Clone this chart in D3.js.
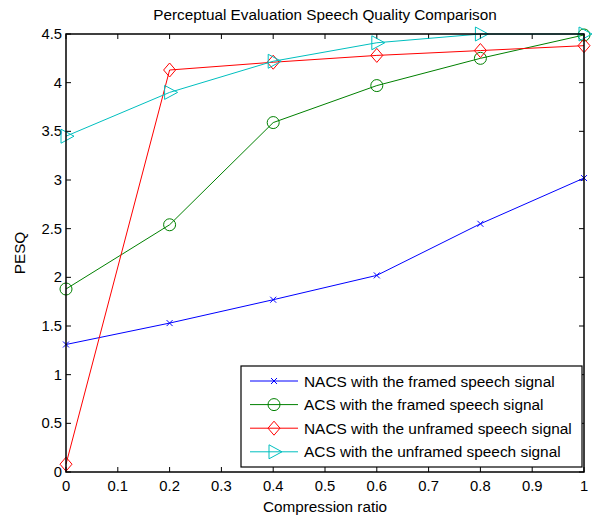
<!DOCTYPE html>
<html>
<head>
<meta charset="utf-8">
<script src="https://d3js.org/d3.v7.min.js"></script>
<style>
 body { margin: 0; background: #fff; }
 text { font-family: "Liberation Sans", Arial, sans-serif; fill: #000; }
</style>
</head>
<body>
<script>
// data
var ratios = [0, 0.2, 0.4, 0.6, 0.8, 1];
var nacsFramed = [1.31, 1.53, 1.77, 2.02, 2.55, 3.02];
var acsFramed = [1.88, 2.54, 3.59, 3.97, 4.25, 4.49];
var nacsUnframed = [0.08, 4.13, 4.21, 4.28, 4.33, 4.38];
var acsUnframed = [3.45, 3.90, 4.22, 4.41, 4.50, 4.50];
var seriesNames = ["NACS with the framed speech signal", "ACS with the framed speech signal",
                   "NACS with the unframed speech signal", "ACS with the unframed speech signal"];
var xTicks = [0, 0.1, 0.2, 0.3, 0.4, 0.5, 0.6, 0.7, 0.8, 0.9, 1];
var yTicks = [0, 0.5, 1, 1.5, 2, 2.5, 3, 3.5, 4, 4.5];

var series = [
  {name: seriesNames[0], values: nacsFramed, color: "#0000ff", marker: "x"},
  {name: seriesNames[1], values: acsFramed, color: "#008000", marker: "o"},
  {name: seriesNames[2], values: nacsUnframed, color: "#ff0000", marker: "d"},
  {name: seriesNames[3], values: acsUnframed, color: "#00bfbf", marker: ">"}
];

var W = 593, H = 518;
var m = {left: 66, right: 9, top: 34, bottom: 46};
var svg = d3.select("body").append("svg").attr("width", W).attr("height", H);

var x = d3.scaleLinear().domain([0, 1]).range([m.left, W - m.right]);
var y = d3.scaleLinear().domain([0, 4.5]).range([H - m.bottom, m.top]);

// ticks (inside, all four sides)
var g = svg.append("g");
xTicks.forEach(function(t) {
  g.append("line").attr("x1", x(t)).attr("x2", x(t)).attr("y1", y(0)).attr("y2", y(0) - 5).attr("stroke", "#000");
  g.append("line").attr("x1", x(t)).attr("x2", x(t)).attr("y1", y(4.5)).attr("y2", y(4.5) + 5).attr("stroke", "#000");
  g.append("text").attr("x", x(t)).attr("y", y(0) + 19).attr("text-anchor", "middle")
   .attr("font-size", 14.8).text(t);
});
yTicks.forEach(function(t) {
  g.append("line").attr("x1", x(0)).attr("x2", x(0) + 5).attr("y1", y(t)).attr("y2", y(t)).attr("stroke", "#000");
  g.append("line").attr("x1", x(1)).attr("x2", x(1) - 5).attr("y1", y(t)).attr("y2", y(t)).attr("stroke", "#000");
  g.append("text").attr("x", x(0) - 4).attr("y", y(t) + 5).attr("text-anchor", "end")
   .attr("font-size", 14.8).text(t);
});

// line + markers
var line = d3.line().x(function(d, i) { return x(ratios[i]); }).y(function(d) { return y(d); });

function drawMarker(sel, type, cx, cy, color) {
  if (type === "x") {
    sel.append("path").attr("d", "M" + (cx - 3) + "," + (cy - 3) + "L" + (cx + 3) + "," + (cy + 3) +
      "M" + (cx - 3) + "," + (cy + 3) + "L" + (cx + 3) + "," + (cy - 3))
      .attr("stroke", color).attr("fill", "none");
  } else if (type === "o") {
    sel.append("circle").attr("cx", cx).attr("cy", cy).attr("r", 6)
      .attr("stroke", color).attr("fill", "none");
  } else if (type === "d") {
    sel.append("path").attr("d", "M" + cx + "," + (cy - 7) + "L" + (cx + 6) + "," + cy + "L" + cx + "," + (cy + 7) +
      "L" + (cx - 6) + "," + cy + "Z").attr("stroke", color).attr("fill", "none");
  } else {
    sel.append("path").attr("d", "M" + (cx - 5) + "," + (cy - 7) + "L" + (cx + 8) + "," + cy + "L" + (cx - 5) + "," + (cy + 7) + "Z")
      .attr("stroke", color).attr("fill", "none");
  }
}

series.forEach(function(s) {
  svg.append("path").datum(s.values).attr("d", line)
     .attr("fill", "none").attr("stroke", s.color).attr("stroke-width", 1);
  var mg = svg.append("g");
  s.values.forEach(function(v, i) { drawMarker(mg, s.marker, x(ratios[i]), y(v), s.color); });
});

// axes box
svg.append("rect").attr("x", x(0)).attr("y", y(4.5)).attr("width", x(1) - x(0)).attr("height", y(0) - y(4.5))
   .attr("fill", "none").attr("stroke", "#000").attr("stroke-width", 1.5);

// legend
var lg = svg.append("g");
lg.append("rect").attr("x", 241).attr("y", 366).attr("width", 341).attr("height", 101)
  .attr("fill", "#fff").attr("stroke", "#000").attr("stroke-width", 1.2);
series.forEach(function(s, i) {
  var ly = 381 + i * 23.6;
  lg.append("line").attr("x1", 250).attr("x2", 298).attr("y1", ly).attr("y2", ly).attr("stroke", s.color);
  drawMarker(lg, s.marker, 274, ly, s.color);
  lg.append("text").attr("x", 304).attr("y", ly + 5.5).attr("font-size", 15.4).text(s.name);
});

// titles
svg.append("text").attr("x", (x(0) + x(1)) / 2).attr("y", 20).attr("text-anchor", "middle")
   .attr("font-size", 15.3).text("Perceptual Evaluation Speech Quality Comparison");
svg.append("text").attr("x", (x(0) + x(1)) / 2).attr("y", 512).attr("text-anchor", "middle")
   .attr("font-size", 15.3).text("Compression ratio");
svg.append("text").attr("transform", "translate(25," + ((y(0) + y(4.5)) / 2) + ") rotate(-90)")
   .attr("text-anchor", "middle").attr("font-size", 15.3).text("PESQ");
</script>
</body>
</html>
